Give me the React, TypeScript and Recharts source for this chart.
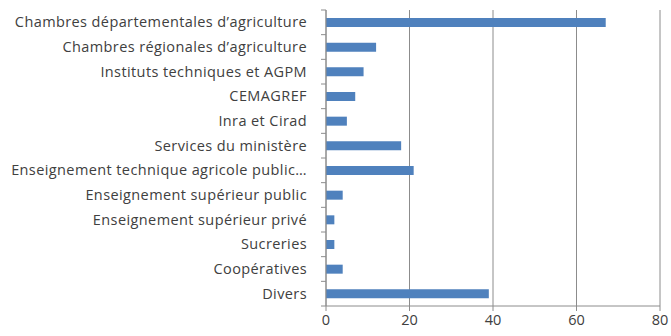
import React from 'react';
import { BarChart, Bar, XAxis, YAxis, CartesianGrid } from 'recharts';

const categories = [
  'Chambres départementales d’agriculture',
  'Chambres régionales d’agriculture',
  'Instituts techniques et AGPM',
  'CEMAGREF',
  'Inra et Cirad',
  'Services du ministère',
  'Enseignement technique agricole public…',
  'Enseignement supérieur public',
  'Enseignement supérieur privé',
  'Sucreries',
  'Coopératives',
  'Divers',
];

const values = [67, 12, 9, 7, 5, 18, 21, 4, 2, 2, 4, 39];

const xTicks = [0, 20, 40, 60, 80];

const data = categories.map((name, i) => ({ name, value: values[i] }));

const W = 671;
const H = 336;
const TOP = 10;
const X_AXIS_H = 30;
const FONT = '"Open Sans", "Noto Sans", sans-serif';
const TEXT = '#404040';
const GRID = '#8c8c8c';

const bandStep = (H - TOP - X_AXIS_H) / categories.length;

const CategoryTick = (props: any) => {
  const { x, y, payload } = props;
  return (
    <g>
      <line x1={x - 5} x2={x} y1={y - bandStep / 2} y2={y - bandStep / 2} stroke={GRID} />
      {payload.index === categories.length - 1 && (
        <line x1={x - 5} x2={x} y1={y + bandStep / 2} y2={y + bandStep / 2} stroke={GRID} />
      )}
      <text
        x={x - 19}
        y={y}
        dy="0.35em"
        textAnchor="end"
        fill={TEXT}
        fontSize={14.5}
        letterSpacing={0.4}
        fontFamily={FONT}
      >
        {payload.value}
      </text>
    </g>
  );
};

const App: React.FC = () => {
  return (
    <div style={{ position: 'absolute', left: 0, top: 0, width: W, height: H, background: '#fff' }}>
      <BarChart
        width={W}
        height={H}
        data={data}
        layout="vertical"
        margin={{ top: TOP, right: 11, bottom: 0, left: 0 }}
      >
        <CartesianGrid horizontal={false} stroke={GRID} />
        <XAxis
          type="number"
          domain={[0, 80]}
          ticks={xTicks}
          height={X_AXIS_H}
          stroke={GRID}
          tickSize={5}
          tick={{ fill: TEXT, fontSize: 14.5, fontFamily: FONT }}
          tickMargin={4}
        />
        <YAxis
          type="category"
          dataKey="name"
          width={326}
          stroke={GRID}
          tickLine={false}
          tickSize={0}
          tickMargin={0}
          interval={0}
          tick={<CategoryTick />}
        />
        <Bar dataKey="value" fill="#4F81BD" barSize={9} isAnimationActive={false} />
      </BarChart>
    </div>
  );
};

export default App;
